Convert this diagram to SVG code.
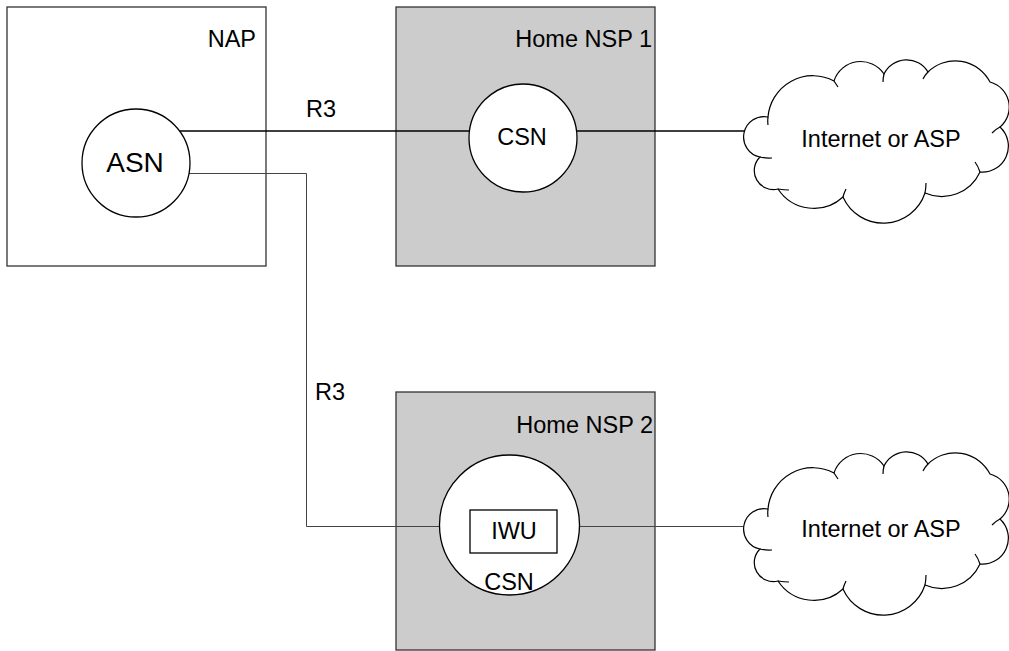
<svg xmlns="http://www.w3.org/2000/svg" width="1009" height="651" viewBox="0 0 1009 651">
<style>
text{font-family:"Liberation Sans",Arial,sans-serif;font-size:23.5px;fill:#000}
.box{stroke:#333;stroke-width:1.3}
.circ{fill:#fff;stroke:#000;stroke-width:1.3}
.cloud{fill:#fff;stroke:#000;stroke-width:1.2}
.tail{fill:none;stroke:#000;stroke-width:1.2}
.l1{stroke:#000;stroke-width:1.4;fill:none}
.l2{stroke:#444;stroke-width:1;fill:none}
</style>
<defs>
<g id="cloudShape">
<path class="cloud" d="M760 157 A20 20 0 1 1 768 117 A45 45 0 0 1 834 81 A28 28 0 0 1 884 74 A25 25 0 0 1 928 72 A39 39 0 0 1 990 82 A26 26 0 0 1 1000 127 A26 26 0 0 1 980 172 A42 42 0 0 1 925 193 A44 44 0 0 1 843 197 A43 43 0 0 1 778 189 A19 19 0 0 1 760 157 Z"/>
<path class="tail" d="M760 157 Q766 158.5 772 158 M768 117 Q767.5 121 768 125 M834 81 Q836 84 838 87 M884 74 Q883 78 883 82 M928 72 Q925 75 923 79 M1000 127 Q996 129 992 133 M980 172 Q978 166 975 162 M925 193 Q926 188 926 183 M843 197 Q844 193 846 189 M778 189 Q784 190 789 190"/>
</g>
</defs>
<g id="nap">
<rect class="box" x="7" y="7" width="259" height="259" fill="#fff"/>
<text x="256" y="47" text-anchor="end">NAP</text>
</g>
<g id="nsp1">
<rect class="box" x="396" y="7" width="259" height="259" fill="#ccc"/>
<text x="652" y="47" text-anchor="end">Home NSP 1</text>
</g>
<g id="nsp2">
<rect class="box" x="396" y="392" width="259" height="258" fill="#ccc"/>
<text x="653" y="433" text-anchor="end">Home NSP 2</text>
</g>
<g id="connectors">
<line class="l1" x1="180" y1="131" x2="470" y2="131"/>
<line class="l1" x1="577" y1="131" x2="744" y2="131"/>
<polyline class="l2" points="185,173.5 306.5,173.5 306.5,526.5 470,526.5"/>
<line class="l2" x1="579" y1="526.5" x2="744" y2="526.5"/>
</g>
<g id="asn">
<circle class="circ" cx="136" cy="163" r="54"/>
<text x="135" y="172" text-anchor="middle" style="font-size:28px">ASN</text>
</g>
<g id="csn1">
<circle class="circ" cx="523" cy="138" r="54"/>
<text x="522" y="145" text-anchor="middle">CSN</text>
</g>
<g id="csn2">
<circle class="circ" cx="509.5" cy="525" r="70"/>
<text x="509" y="590" text-anchor="middle">CSN</text>
</g>
<g id="iwu">
<rect x="470" y="510" width="87" height="43" fill="#fff" stroke="#000" stroke-width="1.3"/>
<text x="514" y="539" text-anchor="middle">IWU</text>
</g>
<g id="labels">
<text x="306" y="117">R3</text>
<text x="315" y="400">R3</text>
</g>
<g id="cloud1">
<use href="#cloudShape"/>
<text x="881" y="147" text-anchor="middle">Internet or ASP</text>
</g>
<g id="cloud2">
<use href="#cloudShape" transform="translate(0,392)"/>
<text x="881" y="537" text-anchor="middle">Internet or ASP</text>
</g>
</svg>
